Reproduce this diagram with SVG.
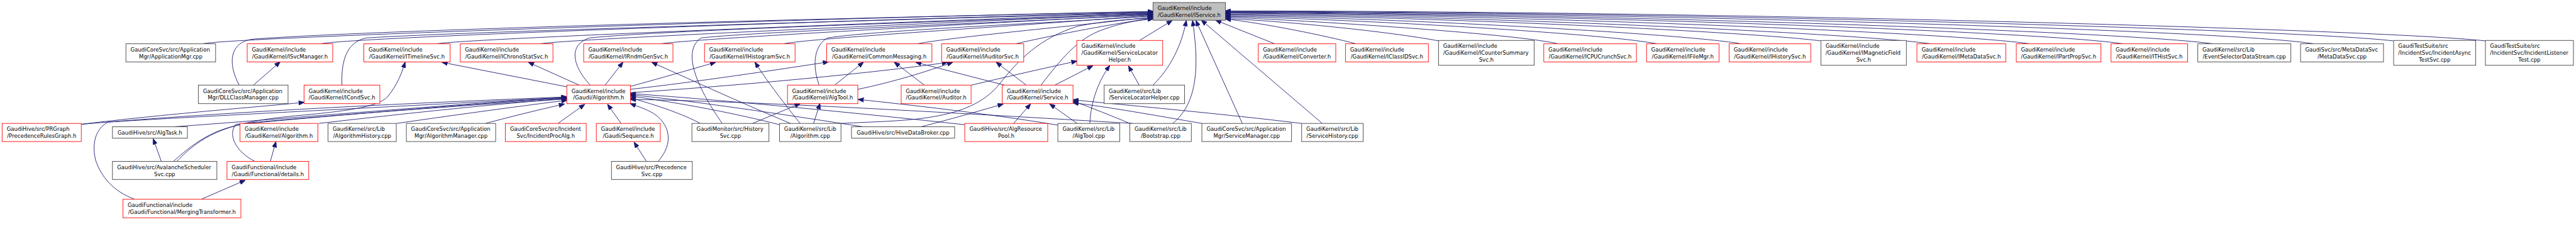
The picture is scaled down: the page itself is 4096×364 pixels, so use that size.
<svg xmlns="http://www.w3.org/2000/svg" width="4096" height="364" viewBox="0 0 4096 364">
<style>
.n rect{fill:#fff;stroke:#404040;stroke-width:1.33}
.r rect{stroke:#ff0000}
.g rect{fill:#bfbfbf;stroke:#404040}
text{font-family:"DejaVu Sans","Liberation Sans",sans-serif;font-size:12.8px;fill:#000}
.m{text-anchor:middle}
#edges path{fill:none;stroke:#191970;stroke-width:1.33;marker-end:url(#ah)}
</style>
<defs>
<marker id="ah" markerUnits="userSpaceOnUse" markerWidth="14" markerHeight="11" viewBox="0 0 14 11" refX="13" refY="5.5" orient="auto"><path d="M0,0 L14,5.5 L0,11 z" fill="#191970" stroke="#191970" stroke-width="1"/></marker>
</defs>
<rect width="4096" height="364" fill="#fff"/>
<g transform="scale(0.6696)">
<g id="edges">
<path d="M482,104 C540,88 2060,40 2738,27"/>
<path d="M568,202 C540,150 545,100 600,93 C900,70 2100,40 2738,28"/>
<path d="M762,104 C830,88 2100,45 2738,29"/>
<path d="M812,202 C810,150 820,100 870,90 C1100,75 2200,45 2738,30"/>
<path d="M1037,104 C1100,92 2200,50 2738,31"/>
<path d="M1283,104 C1350,92 2300,52 2738,32"/>
<path d="M1402,202 C1370,170 1340,110 1400,90 C1600,70 2300,50 2738,33"/>
<path d="M1570,104 C1640,92 2350,55 2738,34"/>
<path d="M1715,293 C1650,200 1620,120 1665,90 C1800,75 2350,55 2738,35"/>
<path d="M1860,104 C1930,90 2450,60 2738,36"/>
<path d="M1945,202 C1930,160 1930,110 1965,90 C2100,70 2500,55 2738,38"/>
<path d="M2178,104 C2260,88 2550,62 2738,40"/>
<path d="M2412,104 C2480,88 2620,60 2738,43"/>
<path d="M2472,202 C2520,140 2560,90 2620,70 C2660,55 2700,48 2738,45"/>
<path d="M1997,293 C2150,285 2300,290 2373,200 C2420,140 2470,90 2560,62 C2620,50 2690,44 2738,44"/>
<path d="M2706,96 L2783,49"/>
<path d="M2738,202 C2780,160 2805,110 2817,49"/>
<path d="M2785,293 C2850,240 2845,140 2832,49"/>
<path d="M2950,293 L2840,49"/>
<path d="M3140,293 L2853,48"/>
<path d="M3027,104 L2887,48"/>
<path d="M3220,104 C3150,85 3000,55 2910,45"/>
<path d="M3416,97 C3300,75 3050,50 2910,44"/>
<path d="M3700,104 C3600,80 3100,48 2910,41"/>
<path d="M3935,104 C3800,78 3200,45 2910,39"/>
<path d="M4135,104 C4000,80 3300,42 2910,37"/>
<path d="M4323,97 C4150,75 3400,40 2910,35"/>
<path d="M4585,104 C4400,78 3500,38 2910,33"/>
<path d="M4820,104 C4650,78 3600,36 2910,31"/>
<path d="M5042,104 C4850,75 3700,34 2910,30"/>
<path d="M5255,104 C5050,75 3800,32 2910,29"/>
<path d="M5495,104 C5300,72 3900,30 2910,28"/>
<path d="M5683,97 C5450,70 4000,28 2910,27"/>
<path d="M5902,97 C5650,70 4100,26 2910,26"/>
<path d="M602,202 L665,147"/>
<path d="M1346,206 L1050,148"/>
<path d="M1375,202 L1255,148"/>
<path d="M1437,202 L1479,148"/>
<path d="M1497,205 C1560,188 1640,165 1699,148"/>
<path d="M1497,212 C1650,195 1850,165 1967,147"/>
<path d="M1497,220 C1800,200 2100,170 2250,148"/>
<path d="M1982,202 L2050,148"/>
<path d="M2037,212 C2120,195 2200,170 2262,148"/>
<path d="M2195,202 L2124,148"/>
<path d="M2385,202 L2175,148"/>
<path d="M2437,202 L2366,148"/>
<path d="M2505,202 L2595,156"/>
<path d="M2307,202 C2400,180 2480,162 2557,145"/>
<path d="M2705,202 L2680,157"/>
<path d="M2588,293 C2590,240 2610,190 2635,156"/>
<path d="M2407,293 L2447,247"/>
<path d="M2558,293 L2493,247"/>
<path d="M2683,293 C2640,275 2590,255 2548,240"/>
<path d="M2854,293 C2750,275 2620,252 2548,244"/>
<path d="M3091,293 C2900,270 2700,252 2548,237"/>
<path d="M2187,301 C2250,285 2330,262 2382,247"/>
<path d="M2512,297 C2350,270 2150,248 2038,236"/>
<path d="M1787,293 L1900,246"/>
<path d="M1932,293 L1947,246"/>
<path d="M1900,293 C1850,230 1820,190 1793,148"/>
<path d="M1877,293 C1750,240 1620,180 1548,148"/>
<path d="M1663,293 C1620,270 1560,250 1497,232"/>
<path d="M1851,296 C1750,270 1620,245 1497,228"/>
<path d="M2050,301 C1850,270 1650,240 1497,225"/>
<path d="M2291,296 C2050,270 1750,240 1497,222"/>
<path d="M2690,293 C2300,270 1800,240 1497,236"/>
<path d="M1535,383 L1506,338"/>
<path d="M1563,383 C1600,340 1590,300 1560,275 C1540,260 1520,255 1497,246"/>
<path d="M1475,293 L1443,248"/>
<path d="M1325,293 L1388,248"/>
<path d="M1153,293 C1220,275 1290,258 1340,247"/>
<path d="M942,293 C1100,270 1250,250 1346,238"/>
<path d="M757,293 C1000,265 1200,245 1346,234"/>
<path d="M193,295 C600,260 1100,240 1346,230"/>
<path d="M413,301 C700,280 1100,245 1346,232"/>
<path d="M412,383 C470,330 520,300 600,292 C900,265 1200,240 1346,233"/>
<path d="M383,383 L364,330"/>
<path d="M420,383 C480,320 540,290 700,275 C850,262 900,250 920,230 C945,200 955,170 962,148"/>
<path d="M193,295 C400,270 600,255 722,243"/>
<path d="M320,473 C270,455 240,420 227,380 C215,330 235,300 257,290 C400,280 900,255 1346,231"/>
<path d="M478,473 L582,428"/>
<path d="M642,383 L655,337"/>
<path d="M605,383 C560,360 540,320 560,295 C700,280 1100,250 1346,235"/>
</g>
<g id="IService" class="n g"><rect x="2738" y="6" width="172" height="42"/><text x="2749" y="23.5">GaudiKernel/include</text><text x="2824" y="39.9" class="m">/GaudiKernel/IService.h</text></g>
<g id="appmgr" class="n"><rect x="299" y="104" width="213" height="43"/><text x="310" y="122.3">GaudiCoreSvc/src/Application</text><text x="405.5" y="138.7" class="m">Mgr/ApplicationMgr.cpp</text></g>
<g id="isvcmgr" class="n r"><rect x="587" y="104" width="203" height="43"/><text x="598" y="122.3">GaudiKernel/include</text><text x="688.5" y="138.7" class="m">/GaudiKernel/ISvcManager.h</text></g>
<g id="itimeline" class="n r"><rect x="864" y="104" width="205" height="43"/><text x="875" y="122.3">GaudiKernel/include</text><text x="966.5" y="138.7" class="m">/GaudiKernel/ITimelineSvc.h</text></g>
<g id="ichrono" class="n r"><rect x="1093" y="104" width="220" height="43"/><text x="1104" y="122.3">GaudiKernel/include</text><text x="1203" y="138.7" class="m">/GaudiKernel/IChronoStatSvc.h</text></g>
<g id="irndm" class="n r"><rect x="1386" y="104" width="212" height="43"/><text x="1397" y="122.3">GaudiKernel/include</text><text x="1492" y="138.7" class="m">/GaudiKernel/IRndmGenSvc.h</text></g>
<g id="ihisto" class="n r"><rect x="1673" y="104" width="215" height="43"/><text x="1684" y="122.3">GaudiKernel/include</text><text x="1780.5" y="138.7" class="m">/GaudiKernel/IHistogramSvc.h</text></g>
<g id="common" class="n r"><rect x="1963" y="104" width="250" height="43"/><text x="1974" y="122.3">GaudiKernel/include</text><text x="2088" y="138.7" class="m">/GaudiKernel/CommonMessaging.h</text></g>
<g id="iauditorsvc" class="n r"><rect x="2236" y="104" width="195" height="43"/><text x="2247" y="122.3">GaudiKernel/include</text><text x="2333.5" y="138.7" class="m">/GaudiKernel/IAuditorSvc.h</text></g>
<g id="slh" class="n r"><rect x="2557" y="96" width="204" height="59"/><text x="2568" y="114">GaudiKernel/include</text><text x="2568" y="130.4">/GaudiKernel/ServiceLocator</text><text x="2659" y="146.8" class="m">Helper.h</text></g>
<g id="converter" class="n r"><rect x="2988" y="104" width="184" height="43"/><text x="2999" y="122.3">GaudiKernel/include</text><text x="3080" y="138.7" class="m">/GaudiKernel/Converter.h</text></g>
<g id="iclassid" class="n r"><rect x="3195" y="104" width="197" height="43"/><text x="3206" y="122.3">GaudiKernel/include</text><text x="3293.5" y="138.7" class="m">/GaudiKernel/IClassIDSvc.h</text></g>
<g id="icounter" class="n"><rect x="3416" y="96" width="227" height="59"/><text x="3427" y="114">GaudiKernel/include</text><text x="3427" y="130.4">/GaudiKernel/ICounterSummary</text><text x="3529.5" y="146.8" class="m">Svc.h</text></g>
<g id="icpu" class="n r"><rect x="3666" y="104" width="220" height="43"/><text x="3677" y="122.3">GaudiKernel/include</text><text x="3776" y="138.7" class="m">/GaudiKernel/ICPUCrunchSvc.h</text></g>
<g id="ifilemgr" class="n r"><rect x="3910" y="104" width="172" height="43"/><text x="3921" y="122.3">GaudiKernel/include</text><text x="3996" y="138.7" class="m">/GaudiKernel/IFileMgr.h</text></g>
<g id="ihistory" class="n r"><rect x="4106" y="104" width="194" height="43"/><text x="4117" y="122.3">GaudiKernel/include</text><text x="4203" y="138.7" class="m">/GaudiKernel/IHistorySvc.h</text></g>
<g id="imagnetic" class="n"><rect x="4324" y="96" width="203" height="59"/><text x="4335" y="114">GaudiKernel/include</text><text x="4335" y="130.4">/GaudiKernel/IMagneticField</text><text x="4425.5" y="146.8" class="m">Svc.h</text></g>
<g id="imetadata" class="n r"><rect x="4552" y="104" width="211" height="43"/><text x="4563" y="122.3">GaudiKernel/include</text><text x="4657.5" y="138.7" class="m">/GaudiKernel/IMetaDataSvc.h</text></g>
<g id="ipartprop" class="n r"><rect x="4788" y="104" width="201" height="43"/><text x="4799" y="122.3">GaudiKernel/include</text><text x="4888.5" y="138.7" class="m">/GaudiKernel/IPartPropSvc.h</text></g>
<g id="ithist" class="n r"><rect x="5013" y="104" width="182" height="43"/><text x="5024" y="122.3">GaudiKernel/include</text><text x="5104" y="138.7" class="m">/GaudiKernel/ITHistSvc.h</text></g>
<g id="evtsel" class="n"><rect x="5219" y="104" width="221" height="43"/><text x="5230" y="122.3">GaudiKernel/src/Lib</text><text x="5329.5" y="138.7" class="m">/EventSelectorDataStream.cpp</text></g>
<g id="metadatasvc" class="n"><rect x="5463" y="104" width="197" height="43"/><text x="5474" y="122.3">GaudiSvc/src/MetaDataSvc</text><text x="5561.5" y="138.7" class="m">/MetaDataSvc.cpp</text></g>
<g id="incasync" class="n"><rect x="5684" y="96" width="195" height="59"/><text x="5695" y="114">GaudiTestSuite/src</text><text x="5695" y="130.4">/IncidentSvc/IncidentAsync</text><text x="5781.5" y="146.8" class="m">TestSvc.cpp</text></g>
<g id="inclistener" class="n"><rect x="5902" y="96" width="209" height="59"/><text x="5913" y="114">GaudiTestSuite/src</text><text x="5913" y="130.4">/IncidentSvc/IncidentListener</text><text x="6006.5" y="146.8" class="m">Test.cpp</text></g>
<g id="dllclass" class="n"><rect x="471" y="202" width="213" height="44"/><text x="482" y="220.3">GaudiCoreSvc/src/Application</text><text x="577.5" y="236.7" class="m">Mgr/DLLClassManager.cpp</text></g>
<g id="icondsvc" class="n r"><rect x="722" y="202" width="180" height="44"/><text x="733" y="220.3">GaudiKernel/include</text><text x="812" y="236.7" class="m">/GaudiKernel/ICondSvc.h</text></g>
<g id="galgorithm" class="n r"><rect x="1346" y="202" width="151" height="44"/><text x="1357" y="220.3">GaudiKernel/include</text><text x="1421.5" y="236.7" class="m">/Gaudi/Algorithm.h</text></g>
<g id="algtoolh" class="n r"><rect x="1870" y="202" width="167" height="44"/><text x="1881" y="220.3">GaudiKernel/include</text><text x="1953.5" y="236.7" class="m">/GaudiKernel/AlgTool.h</text></g>
<g id="auditorh" class="n r"><rect x="2140" y="202" width="166" height="44"/><text x="2151" y="220.3">GaudiKernel/include</text><text x="2223" y="236.7" class="m">/GaudiKernel/Auditor.h</text></g>
<g id="serviceh" class="n r"><rect x="2380" y="202" width="168" height="44"/><text x="2391" y="220.3">GaudiKernel/include</text><text x="2464" y="236.7" class="m">/GaudiKernel/Service.h</text></g>
<g id="slhcpp" class="n"><rect x="2622" y="202" width="191" height="44"/><text x="2633" y="220.3">GaudiKernel/src/Lib</text><text x="2717.5" y="236.7" class="m">/ServiceLocatorHelper.cpp</text></g>
<g id="prgraph" class="n r"><rect x="5" y="293" width="188" height="43"/><text x="16" y="311.3">GaudiHive/src/PRGraph</text><text x="99" y="327.7" class="m">/PrecedenceRulesGraph.h</text></g>
<g id="algtask" class="n"><rect x="267" y="301" width="178" height="27"/><text x="356" y="319.5" class="m">GaudiHive/src/AlgTask.h</text></g>
<g id="kalgorithm" class="n r"><rect x="570" y="293" width="185" height="43"/><text x="581" y="311.3">GaudiKernel/include</text><text x="662.5" y="327.7" class="m">/GaudiKernel/Algorithm.h</text></g>
<g id="alghist" class="n"><rect x="779" y="293" width="162" height="43"/><text x="790" y="311.3">GaudiKernel/src/Lib</text><text x="860" y="327.7" class="m">/AlgorithmHistory.cpp</text></g>
<g id="algmgr" class="n"><rect x="965" y="293" width="212" height="43"/><text x="976" y="311.3">GaudiCoreSvc/src/Application</text><text x="1071" y="327.7" class="m">Mgr/AlgorithmManager.cpp</text></g>
<g id="incproc" class="n r"><rect x="1200" y="293" width="192" height="43"/><text x="1211" y="311.3">GaudiCoreSvc/src/Incident</text><text x="1296" y="327.7" class="m">Svc/IncidentProcAlg.h</text></g>
<g id="sequence" class="n r"><rect x="1416" y="293" width="152" height="43"/><text x="1427" y="311.3">GaudiKernel/include</text><text x="1492" y="327.7" class="m">/Gaudi/Sequence.h</text></g>
<g id="histsvc" class="n"><rect x="1643" y="293" width="183" height="43"/><text x="1654" y="311.3">GaudiMonitor/src/History</text><text x="1734.5" y="327.7" class="m">Svc.cpp</text></g>
<g id="algcpp" class="n"><rect x="1851" y="293" width="146" height="43"/><text x="1862" y="311.3">GaudiKernel/src/Lib</text><text x="1924" y="327.7" class="m">/Algorithm.cpp</text></g>
<g id="hivedb" class="n"><rect x="2022" y="301" width="245" height="27"/><text x="2144.5" y="319.5" class="m">GaudiHive/src/HiveDataBroker.cpp</text></g>
<g id="algrespool" class="n r"><rect x="2291" y="293" width="197" height="43"/><text x="2302" y="311.3">GaudiHive/src/AlgResource</text><text x="2389.5" y="327.7" class="m">Pool.h</text></g>
<g id="algtoolcpp" class="n"><rect x="2512" y="293" width="147" height="43"/><text x="2523" y="311.3">GaudiKernel/src/Lib</text><text x="2585.5" y="327.7" class="m">/AlgTool.cpp</text></g>
<g id="bootstrap" class="n"><rect x="2683" y="293" width="146" height="43"/><text x="2694" y="311.3">GaudiKernel/src/Lib</text><text x="2756" y="327.7" class="m">/Bootstrap.cpp</text></g>
<g id="svcmgr" class="n"><rect x="2854" y="293" width="213" height="43"/><text x="2865" y="311.3">GaudiCoreSvc/src/Application</text><text x="2960.5" y="327.7" class="m">Mgr/ServiceManager.cpp</text></g>
<g id="svchist" class="n"><rect x="3091" y="293" width="146" height="43"/><text x="3102" y="311.3">GaudiKernel/src/Lib</text><text x="3164" y="327.7" class="m">/ServiceHistory.cpp</text></g>
<g id="avalanche" class="n"><rect x="267" y="383" width="248" height="43"/><text x="278" y="401.3">GaudiHive/src/AvalancheScheduler</text><text x="391" y="417.7" class="m">Svc.cpp</text></g>
<g id="details" class="n r"><rect x="539" y="383" width="194" height="43"/><text x="550" y="401.3">GaudiFunctional/include</text><text x="636" y="417.7" class="m">/Gaudi/Functional/details.h</text></g>
<g id="precsvc" class="n"><rect x="1452" y="383" width="192" height="43"/><text x="1463" y="401.3">GaudiHive/src/Precedence</text><text x="1548" y="417.7" class="m">Svc.cpp</text></g>
<g id="merging" class="n r"><rect x="292" y="473" width="280" height="44"/><text x="303" y="491.3">GaudiFunctional/include</text><text x="432" y="507.7" class="m">/Gaudi/Functional/MergingTransformer.h</text></g>
</g>
</svg>
